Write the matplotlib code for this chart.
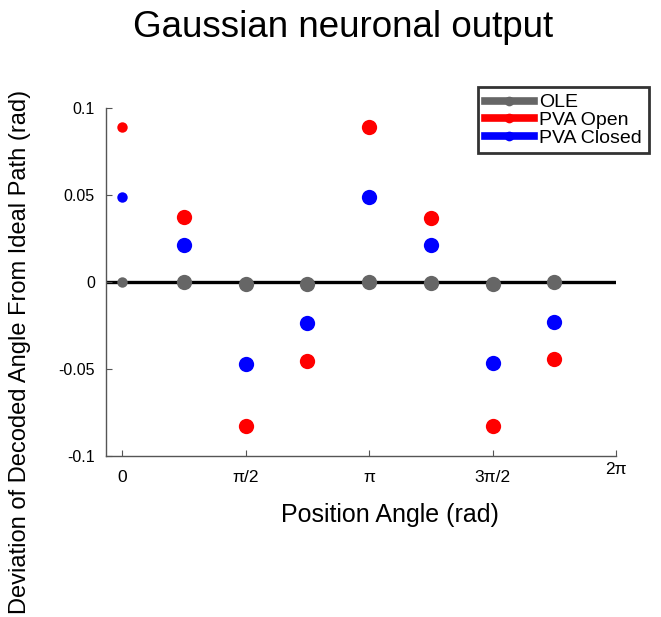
import numpy as np
import matplotlib
matplotlib.use("Agg")
import matplotlib.pyplot as plt
import matplotlib.transforms as mtransforms

plt.rcParams['font.family'] = ['Liberation Sans', 'DejaVu Sans']

# position angles (rad) and deviations
angles = np.array([0, 1, 2, 3, 4, 5, 6, 7]) * np.pi / 4
ole = [0.0, 0.0, -0.001, -0.0014, 0.0, -0.0004, -0.001, 0.0]
pva_open = [0.0893, 0.0372, -0.0828, -0.0454, 0.0889, 0.0370, -0.0826, -0.0441]
pva_closed = [0.0490, 0.0213, -0.0471, -0.0237, 0.0487, 0.0215, -0.0464, -0.0228]

xticks = [0, np.pi / 2, np.pi, 3 * np.pi / 2, 2 * np.pi]
xticklabels = ['0', 'π/2', 'π', '3π/2', '2π']
yticks = [-0.1, -0.05, 0, 0.05, 0.1]
yticklabels = ['-0.1', '-0.05', '0', '0.05', '0.1']

series = [
    ('OLE', ole, '#666666'),
    ('PVA Open', pva_open, '#ff0000'),
    ('PVA Closed', pva_closed, '#0000ff'),
]

fig = plt.figure(figsize=(6.61, 6.17), dpi=100)
ax = fig.add_axes([106 / 661, 1 - 456 / 617, 510 / 661, 348 / 617])

ax.axhline(0, color='black', lw=2.4, zorder=1)

handles = []
for name, vals, col in series:
    vals = np.asarray(vals)
    # first point is drawn smaller in the original
    ax.plot(angles[:1], vals[:1], 'o', color=col, ms=7.5, mec='none', zorder=3)
    ax.plot(angles[1:], vals[1:], 'o', color=col, ms=11, mec='none', zorder=3)
    h, = ax.plot([], [], '-o', color=col, lw=5.5, ms=7, mec='none', label=name)
    handles.append(h)

ax.set_xlim(-0.2036, 2 * np.pi)
ax.set_ylim(-0.1, 0.1)
ax.set_xticks(xticks)
ax.set_xticklabels(xticklabels)
ax.set_yticks(yticks)
ax.set_yticklabels(yticklabels)

for s in ['top', 'right']:
    ax.spines[s].set_visible(False)
for s in ['left', 'bottom']:
    ax.spines[s].set_color('#555555')
    ax.spines[s].set_linewidth(1.0)

ax.tick_params(axis='both', direction='in', length=4, width=0.8, color='#555555',
               labelsize=11.5, labelcolor='black')
ax.tick_params(axis='x', pad=10, labelsize=12.5)
ax.tick_params(axis='y', pad=8)

# last x label sits slightly higher in the original
lab = ax.get_xticklabels()[-1]
lab.set_transform(lab.get_transform() + mtransforms.ScaledTranslation(0, 6 / 72, fig.dpi_scale_trans))

leg = ax.legend(handles=handles, loc='upper right', bbox_to_anchor=(649 / 661, 1 - 87 / 617),
                bbox_transform=fig.transFigure, fontsize=14, frameon=True, fancybox=False,
                handlelength=2.5, handletextpad=0.3, labelspacing=0.0, borderpad=0.35,
                borderaxespad=0)
leg.get_frame().set_edgecolor('black')
leg.get_frame().set_linewidth(2)

fig.text(343 / 661, 1 - 37 / 617, 'Gaussian neuronal output', ha='center', va='baseline',
         fontsize=26.5)
fig.text(390 / 661, 1 - 522 / 617, 'Position Angle (rad)', ha='center', va='baseline',
         fontsize=18)
fig.text(20 / 661, 1 - 352 / 617, 'Deviation of Decoded Angle From Ideal Path (rad)',
         ha='center', va='center', rotation=90, fontsize=17)

fig.savefig('out.png', dpi=100)
